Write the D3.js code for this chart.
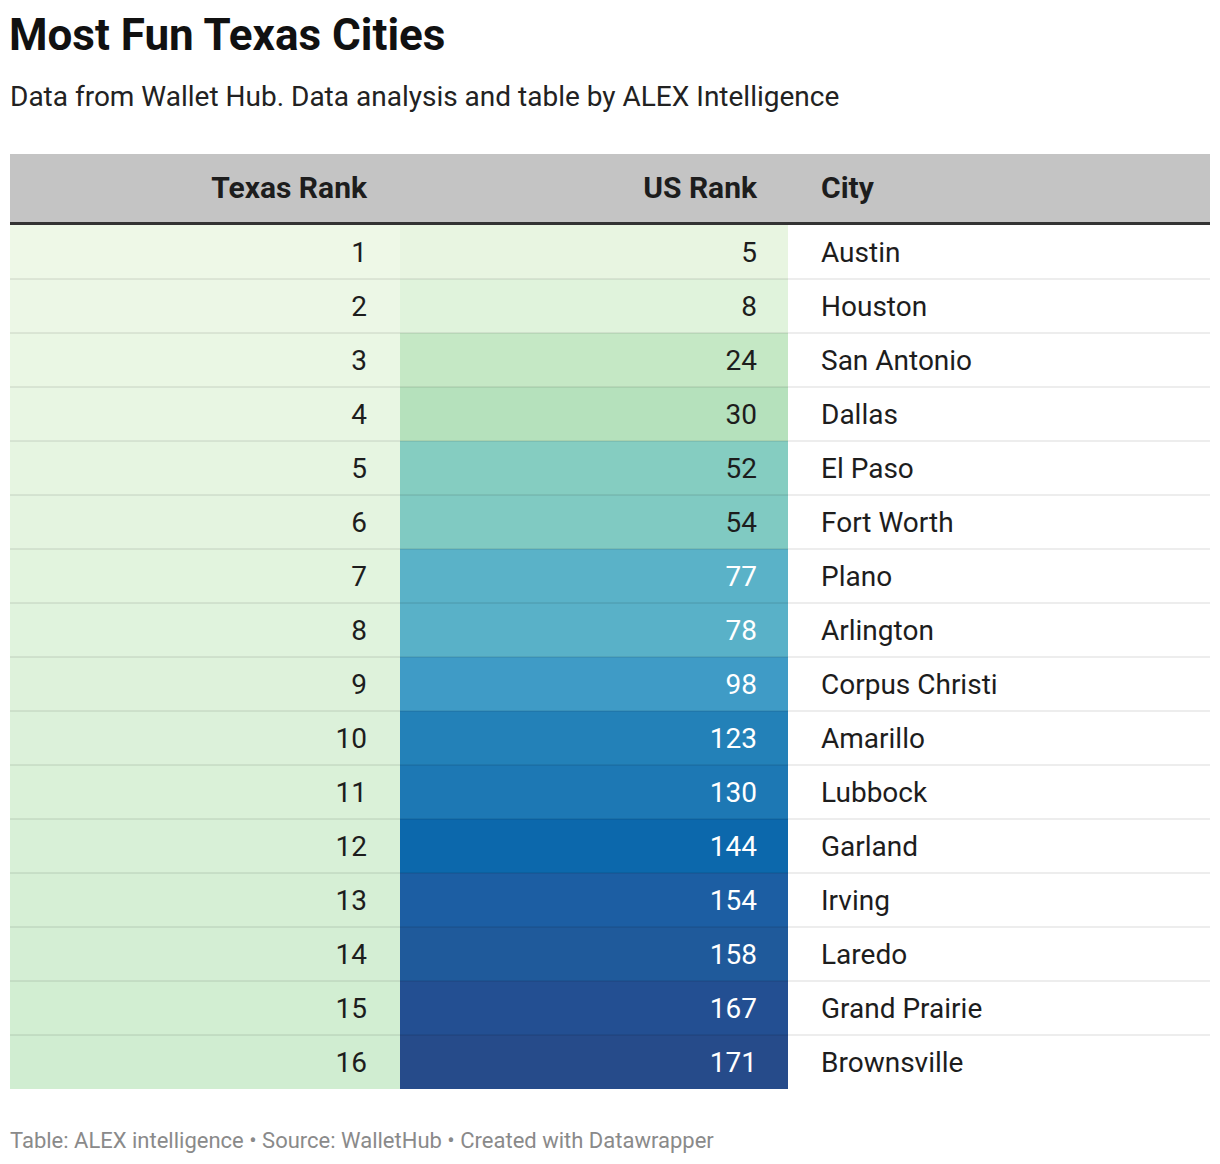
<!DOCTYPE html>
<html><head><meta charset="utf-8">
<script src="https://cdn.jsdelivr.net/npm/d3@7"></script>
<style>body{margin:0;background:#fff;font-family:Roboto,"Noto Sans",sans-serif;}</style>
</head><body>
<svg id="c" width="1220" height="1164"></svg>
<script>
const texasRank = [1,2,3,4,5,6,7,8,9,10,11,12,13,14,15,16];
const usRank = [5,8,24,30,52,54,77,78,98,123,130,144,154,158,167,171];
const cities = ["Austin","Houston","San Antonio","Dallas","El Paso","Fort Worth","Plano","Arlington","Corpus Christi","Amarillo","Lubbock","Garland","Irving","Laredo","Grand Prairie","Brownsville"];
const headers = ["Texas Rank","US Rank","City"];

const svg = d3.select("#c");
const left = 10, right = 1210;
svg.append("text").attr("x",9).attr("y",50).attr("font-size",44).attr("font-weight",700).attr("fill","#111").text("Most Fun Texas Cities");
svg.append("text").attr("x",10).attr("y",106).attr("font-size",28).attr("fill","#222").text("Data from Wallet Hub. Data analysis and table by ALEX Intelligence");

const headTop = 154, headH = 68, borderH = 3;
const bodyTop = headTop + headH + borderH;
const rowH = 54;
const y = d3.scaleBand().domain(d3.range(cities.length)).range([bodyTop, bodyTop + rowH*cities.length]);
const colX = [10, 400, 788, 1210];

const texColor = d3.scaleLinear().domain([1,16]).range(["#eef8e7","#d0edd1"]);
const usColor = d3.scaleLinear().domain([5,8,24,30,52,54,77,98,123,130,144,154,158,167,171])
  .range(["#e8f5e1","#e0f3dc","#c5e8c5","#b5e1bc","#85cdc1","#80cac2","#5ab2c8","#3f9bc6","#2381b8","#1d78b4","#0c68ac","#1c5ea3","#1f5a9b","#234f92","#264b8a"]);

svg.append("rect").attr("x",left).attr("y",headTop).attr("width",right-left).attr("height",headH).attr("fill","#c4c4c4");
svg.append("rect").attr("x",left).attr("y",headTop+headH).attr("width",right-left).attr("height",borderH).attr("fill","#333");
const hb = headTop + 44;
svg.append("text").attr("x",colX[1]-33).attr("y",hb).attr("text-anchor","end").attr("font-size",30).attr("font-weight",700).attr("fill","#1d1d1d").text(headers[0]);
svg.append("text").attr("x",colX[2]-31).attr("y",hb).attr("text-anchor","end").attr("font-size",30).attr("font-weight",700).attr("fill","#1d1d1d").text(headers[1]);
svg.append("text").attr("x",colX[2]+33).attr("y",hb).attr("font-size",30).attr("font-weight",700).attr("fill","#1d1d1d").text(headers[2]);

const rows = svg.append("g").selectAll("g").data(cities).join("g");
rows.append("rect").attr("x",colX[0]).attr("y",(d,i)=>y(i)).attr("width",colX[1]-colX[0]).attr("height",rowH).attr("fill",(d,i)=>texColor(texasRank[i]));
rows.append("rect").attr("x",colX[1]).attr("y",(d,i)=>y(i)).attr("width",colX[2]-colX[1]).attr("height",rowH).attr("fill",(d,i)=>usColor(usRank[i]));
rows.filter((d,i)=>i>0).append("rect").attr("x",left).attr("y",(d,i)=>y(i+1)-1).attr("width",right-left).attr("height",2).attr("fill","#000").attr("opacity",0.07);

const tb = rowH/2 + 10;
rows.append("text").attr("x",colX[1]-33).attr("y",(d,i)=>y(i)+tb).attr("text-anchor","end").attr("font-size",28).attr("fill","#1d1d1d").text((d,i)=>texasRank[i]);
rows.append("text").attr("x",colX[2]-31).attr("y",(d,i)=>y(i)+tb).attr("text-anchor","end").attr("font-size",28)
  .attr("fill",(d,i)=> d3.hsl(usColor(usRank[i])).l < 0.6 ? "#ffffff" : "#1d1d1d").text((d,i)=>usRank[i]);
rows.append("text").attr("x",colX[2]+33).attr("y",(d,i)=>y(i)+tb).attr("font-size",28).attr("fill","#1d1d1d").text(d=>d);

svg.append("text").attr("x",10).attr("y",1148).attr("font-size",22).attr("fill","#8a8a8a").text("Table: ALEX intelligence • Source: WalletHub • Created with Datawrapper");
</script>
</body></html>
